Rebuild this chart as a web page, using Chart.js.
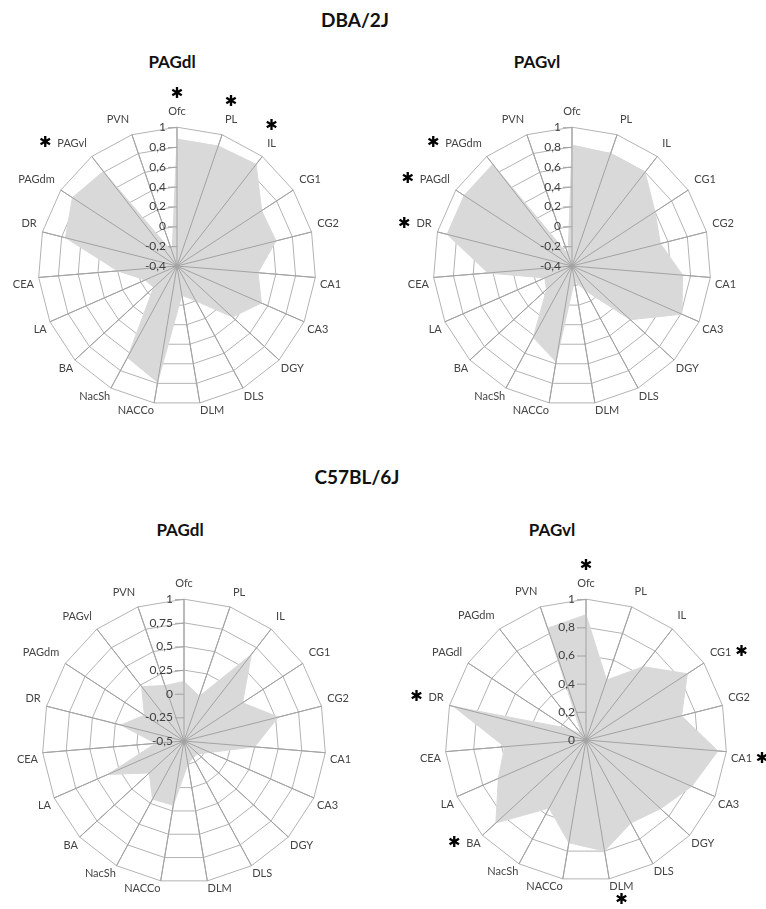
<!DOCTYPE html>
<html>
<head>
<meta charset="utf-8">
<script src="https://cdn.jsdelivr.net/npm/chart.js@4.4.1/dist/chart.umd.min.js"></script>
<style>
  body { margin: 0; background: #fff; }
  #page { position: relative; width: 766px; height: 909px; overflow: hidden; font-family: Lato, "Open Sans", sans-serif; }
  .title { position: absolute; font-weight: bold; color: #111; transform: translateX(-50%); white-space: nowrap; line-height: 1; }
  .box { position: absolute; }
</style>
</head>
<body>
<div id="page">
  <div class="title" style="left:355px; top:10px; font-size:19px;">DBA/2J</div>
  <div class="title" style="left:172px; top:53px; font-size:17px;">PAGdl</div>
  <div class="title" style="left:537px; top:53px; font-size:17px;">PAGvl</div>
  <div class="title" style="left:357px; top:467px; font-size:19px;">C57BL/6J</div>
  <div class="title" style="left:180px; top:521px; font-size:17px;">PAGdl</div>
  <div class="title" style="left:552px; top:521px; font-size:17px;">PAGvl</div>

  <div class="box" style="left:0; top:40px; width:383px; height:400px;"><canvas id="dbaDl"></canvas></div>
  <div class="box" style="left:383px; top:40px; width:383px; height:400px;"><canvas id="dbaVl"></canvas></div>
  <div class="box" style="left:0; top:550px; width:383px; height:359px;"><canvas id="c57Dl"></canvas></div>
  <div class="box" style="left:383px; top:550px; width:383px; height:359px;"><canvas id="c57Vl"></canvas></div>
</div>

<script>
// brain regions, two orderings (the PAG column that is the stimulated site is left out)
const regionsWithoutDl = ['Ofc', 'PL', 'IL', 'CG1', 'CG2', 'CA1', 'CA3', 'DGY', 'DLS', 'DLM', 'NACCo', 'NacSh', 'BA', 'LA', 'CEA', 'DR', 'PAGdm', 'PAGvl', 'PVN'];
const regionsWithoutVl = ['Ofc', 'PL', 'IL', 'CG1', 'CG2', 'CA1', 'CA3', 'DGY', 'DLS', 'DLM', 'NACCo', 'NacSh', 'BA', 'LA', 'CEA', 'DR', 'PAGdl', 'PAGdm', 'PVN'];

// correlation values
const dbaPAGdl = [0.88, 0.88, 0.9, 0.62, 0.63, 0.42, 0.53, 0.36, 0.0, -0.1, 0.79, 0.65, -0.08, -0.05, 0.2, 0.76, 0.86, 0.81, -0.25];
const dbaPAGvl = [0.82, 0.8, 0.8, 0.6, 0.52, 0.72, 0.81, 0.4, -0.12, -0.25, 0.58, 0.42, -0.05, -0.1, 0.45, 0.9, 0.9, 0.9, -0.28];
const c57PAGdl = [0.13, 0.0, 0.66, 0.24, 0.53, 0.25, -0.2, -0.3, -0.3, -0.25, 0.19, 0.2, 0.0, 0.38, -0.2, 0.19, 0.0, 0.23, 0.12];
const c57PAGvl = [0.89, 0.45, 0.66, 0.86, 0.7, 0.94, 0.82, 0.72, 0.67, 0.8, 0.74, 0.55, 0.87, 0.68, 0.58, 0.97, 0.15, 0.05, 0.84];

// axis ranges: [min, max, step]
const dbaRange = [-0.4, 1, 0.2];
const c57DlRange = [-0.5, 1, 0.25];
const c57VlRange = [0, 1, 0.2];

// regions marked with an asterisk
const dbaPAGdlStars = ['Ofc', 'PL', 'IL', 'PAGvl'];
const dbaPAGvlStars = ['DR', 'PAGdl', 'PAGdm'];
const c57PAGdlStars = [];
const c57PAGvlStars = ['Ofc', 'CG1', 'CA1', 'DLM', 'BA', 'DR'];

const fmtTick = v => String(Math.round(v * 100) / 100).replace('.', ',');

// spokes over the fill, value labels left of the Ofc axis, asterisks next to labels
const overlay = {
    id: 'overlay',
    afterDatasetsDraw(chart, args, opts) {
        const s = chart.scales.r;
        const ctx = chart.ctx;
        const labels = chart.data.labels;
        ctx.save();
        ctx.strokeStyle = '#a3a3a3';
        ctx.lineWidth = 1;
        labels.forEach((l, i) => {
            const p = s.getPointPosition(i, s.drawingArea);
            ctx.beginPath();
            ctx.moveTo(s.xCenter, s.yCenter);
            ctx.lineTo(p.x, p.y);
            ctx.stroke();
        });

        ctx.font = '12px Lato';
        ctx.fillStyle = '#404040';
        ctx.textAlign = 'right';
        ctx.textBaseline = 'middle';
        s.ticks.forEach(t => {
            const y = s.yCenter - s.getDistanceFromCenterForValue(t.value);
            ctx.beginPath();
            ctx.moveTo(s.xCenter - 9, y + 0.5);
            ctx.lineTo(s.xCenter, y + 0.5);
            ctx.stroke();
            ctx.fillText(fmtTick(t.value), s.xCenter - 11, y);
        });

        ctx.font = '15px "DejaVu Sans"';
        ctx.fillStyle = '#000';
        ctx.textAlign = 'center';
        (opts.stars || []).forEach(name => {
            const i = labels.indexOf(name);
            if (i < 0) return;
            const b = s.getPointLabelPosition(i);
            const deg = s.getIndexAngle(i) * 180 / Math.PI;
            const mx = (b.left + b.right) / 2, my = (b.top + b.bottom) / 2;
            let x, y;
            if (deg <= 45 || deg >= 345) { x = mx; y = b.top - 11; }
            else if (Math.abs(deg - 180) < 15) { x = mx; y = b.bottom + 7; }
            else if (deg < 180) { x = b.right + 10; y = my; }
            else { x = b.left - 12; y = my; }
            ctx.fillText('\u2731', x, y);
        });
        ctx.restore();
    }
};

function radarChart(id, labels, values, range, pad, stars) {
    return new Chart(document.getElementById(id), {
        type: 'radar',
        data: {
            labels: labels,
            datasets: [{
                data: values,
                backgroundColor: '#d9d9d9',
                borderColor: '#d9d9d9',
                borderWidth: 1,
                pointRadius: 0,
                fill: 'start'
            }]
        },
        options: {
            responsive: true,
            maintainAspectRatio: false,
            animation: false,
            layout: { padding: pad },
            scales: {
                r: {
                    min: range[0],
                    max: range[1],
                    ticks: { display: false, stepSize: range[2] },
                    grid: { color: '#b3b3b3', lineWidth: 1 },
                    angleLines: { color: '#a3a3a3' },
                    pointLabels: {
                        color: '#444',
                        font: { family: 'Lato', size: 11 },
                        padding: ctx => 5 + 4 * Math.cos(2 * Math.PI * ctx.index / labels.length)
                    }
                }
            },
            plugins: {
                legend: { display: false },
                tooltip: { enabled: false },
                overlay: { stars: stars }
            }
        },
        plugins: [overlay]
    });
}

radarChart('dbaDl', regionsWithoutDl, dbaPAGdl, dbaRange, { left: 5, right: 32, top: 61, bottom: 17 }, dbaPAGdlStars);
radarChart('dbaVl', regionsWithoutVl, dbaPAGvl, dbaRange, { left: 17, right: 20, top: 61, bottom: 17 }, dbaPAGvlStars);
radarChart('c57Dl', regionsWithoutDl, c57PAGdl, c57DlRange, { left: 9, right: 22, top: 22, bottom: 9 }, c57PAGdlStars);
radarChart('c57Vl', regionsWithoutVl, c57PAGvl, c57VlRange, { left: 29, right: 4, top: 22, bottom: 11 }, c57PAGvlStars);
</script>
</body>
</html>
